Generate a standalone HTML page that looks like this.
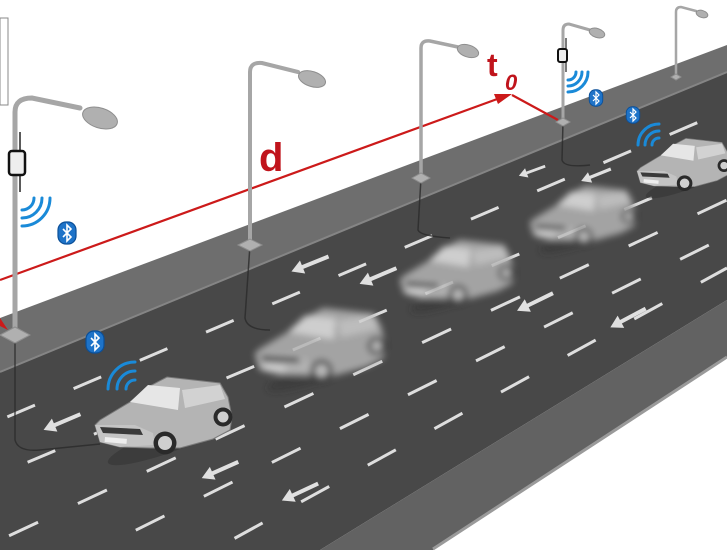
<!DOCTYPE html>
<html><head><meta charset="utf-8"><style>
html,body{margin:0;padding:0;background:#fff;width:727px;height:550px;overflow:hidden;}
svg{display:block;}
</style></head><body>
<svg width="727" height="550" viewBox="0 0 727 550" xmlns="http://www.w3.org/2000/svg">
<defs>
<filter id="blur" x="-20%" y="-20%" width="140%" height="140%"><feGaussianBlur stdDeviation="3.5"/></filter>
<g id="car">
  <ellipse cx="75" cy="65" rx="66" ry="12" fill="#2e2e2e" opacity="0.45" transform="rotate(-20 75 65)"/>
  <path d="M0,50 L5,45 L35,27 L53,12 L72,2 L125,8 L133,22 L137,42 L135,55 L118,64 L85,73 L55,73 L25,72 L5,67 Z" fill="#b4b4b4" stroke="#7a7a7a" stroke-width="1"/>
  <path d="M35,27 L53,10 L85,13 L83,35 Z" fill="#e6e6e6"/>
  <path d="M87,15 L125,10 L130,24 L90,33 Z" fill="#d2d2d2"/>
  <path d="M0,50 L40,50 L58,58 L60,70 L25,72 L5,67 Z" fill="#c4c4c4"/>
  <path d="M5,52 L45,54 L48,60 L8,58 Z" fill="#3a3a3a"/>
  <rect x="10" y="62" width="22" height="5" fill="#eee" transform="rotate(5 10 62)"/>
  <circle cx="70" cy="68" r="11.5" fill="#2a2a2a"/><circle cx="70" cy="68" r="7" fill="#cfcfcf"/>
  <circle cx="128" cy="42" r="9.5" fill="#2a2a2a"/><circle cx="128" cy="42" r="5.5" fill="#cfcfcf"/>
</g>
<g id="bt">
  <rect x="-9" y="-11" width="18" height="22" rx="8" fill="#1e73c8" stroke="#0b4f98" stroke-width="1.2"/>
  <path d="M-4,-4 L4,4 L0,8 L0,-8 L4,-4 L-4,4" fill="none" stroke="#fff" stroke-width="1.6"/>
</g>
<g id="arrow">
  <path d="M-20,0 L-8,-7 L-8,-2 L20,-2 L20,2 L-8,2 L-8,7 Z" fill="#e0e0e0"/>
</g>
</defs>

<rect x="0" y="18" width="8" height="87" fill="none" stroke="#888" stroke-width="1"/>

<polygon points="0,318 727,45 727,72 0,372" fill="#6e6e6e"/>
<polygon points="0,372 727,72 727,300 320,550 0,550" fill="#484848"/>
<line x1="0" y1="372" x2="727" y2="72" stroke="#858585" stroke-width="2"/>
<polygon points="320,550 727,300 727,357 433,550" fill="#626262"/>
<line x1="433" y1="549" x2="727" y2="357" stroke="#9a9a9a" stroke-width="3"/>

<g stroke="#dedede" stroke-width="3" fill="none">
  <line x1="0" y1="420" x2="727" y2="110" stroke-dasharray="30 42" stroke-dashoffset="-8"/>
  <line x1="0" y1="474" x2="727" y2="166" stroke-dasharray="30 42" stroke-dashoffset="-30"/>
  <line x1="0" y1="540" x2="727" y2="200" stroke-dasharray="32 44" stroke-dashoffset="-10"/>
  <line x1="100" y1="548" x2="727" y2="236" stroke-dasharray="32 44" stroke-dashoffset="-40"/>
  <line x1="217" y1="548" x2="727" y2="268" stroke-dasharray="32 44" stroke-dashoffset="-20"/>
</g>
<use href="#arrow" transform="translate(62,422) rotate(-23)"/>
<use href="#arrow" transform="translate(220,470) rotate(-24)"/>
<use href="#arrow" transform="translate(310,264) rotate(-22)"/>
<use href="#arrow" transform="translate(378,276) rotate(-23)"/>
<use href="#arrow" transform="translate(535,302) rotate(-26)"/>
<use href="#arrow" transform="translate(628,318) rotate(-28)"/>
<use href="#arrow" transform="translate(596,175) rotate(-22) scale(0.8)"/>
<use href="#arrow" transform="translate(532,171) rotate(-20) scale(0.7)"/>
<use href="#arrow" transform="translate(300,492) rotate(-25)"/>

<g fill="none" stroke="#2a2a2a" stroke-width="1.5" opacity="0.8">
  <path d="M15,335 L15,440 Q18,452 40,450 L100,444"/>
  <path d="M250,245 L245,318 Q247,330 270,330"/>
  <path d="M421,178 L418,230 Q420,236 450,238"/>
  <path d="M563,122 L562,160 Q564,168 590,165"/>
</g>

<line x1="0" y1="280" x2="500" y2="98" stroke="#cc1a1a" stroke-width="2.2"/>
<polygon points="512,94 494,94 498,104" fill="#cc1a1a"/>
<line x1="512" y1="95" x2="558" y2="120" stroke="#cc1a1a" stroke-width="2.2"/>
<polygon points="0,318 0,326 8,330" fill="#cc1a1a"/>
<text x="259" y="171" font-family="Liberation Sans, sans-serif" font-weight="bold" font-size="40" fill="#c0141c">d</text>
<text x="487" y="76" font-family="Liberation Sans, sans-serif" font-weight="bold" font-size="32" fill="#c0141c">t</text>
<text x="505" y="90" font-family="Liberation Sans, sans-serif" font-weight="bold" font-style="italic" font-size="22" fill="#c0141c">0</text>

<g fill="none" stroke="#a6a6a6" stroke-linecap="round">
  <path d="M15,335 L15,112 Q15,98 32,98 L80,108" stroke-width="5"/>
  <path d="M250,245 L250,72 Q250,62 262,63 L298,72" stroke-width="4"/>
  <path d="M421,178 L421,48 Q421,40 430,41 L458,47" stroke-width="3.5"/>
  <path d="M563,122 L563,30 Q563,24 569,24 L590,30" stroke-width="3"/>
  <path d="M676,77 L676,12 Q676,7 681,7 L696,11" stroke-width="2.5"/>
</g>
<g fill="#b0b0b0" stroke="#8e8e8e" stroke-width="1">
  <ellipse cx="100" cy="118" rx="18" ry="10" transform="rotate(18 100 118)"/>
  <ellipse cx="312" cy="79" rx="14" ry="7.5" transform="rotate(18 312 79)"/>
  <ellipse cx="468" cy="51" rx="11" ry="6" transform="rotate(18 468 51)"/>
  <ellipse cx="597" cy="33" rx="8" ry="4.5" transform="rotate(18 597 33)"/>
  <ellipse cx="702" cy="14" rx="6" ry="3.5" transform="rotate(18 702 14)"/>
  <polygon points="0,335 15,327 30,335 15,343"/>
  <polygon points="238,245 250,239 262,245 250,251"/>
  <polygon points="412,178 421,173 430,178 421,183"/>
  <polygon points="556,122 563,118 570,122 563,126"/>
  <polygon points="671,77 676,74 681,77 676,80"/>
</g>
<line x1="20" y1="132" x2="20" y2="192" stroke="#222" stroke-width="1.5"/>
<rect x="9" y="151" width="16" height="24" rx="3" fill="#eee" stroke="#111" stroke-width="2.5"/>
<line x1="566" y1="38" x2="566" y2="72" stroke="#222" stroke-width="1.2"/>
<rect x="558" y="49" width="9" height="13" rx="2" fill="#eee" stroke="#111" stroke-width="2"/>

<g fill="none" stroke="#1a8ad8" stroke-width="3" stroke-linecap="round">
  <path d="M22,210 A12,12 0 0 0 34,198"/>
  <path d="M22,218 A20,20 0 0 0 42,198"/>
  <path d="M22,226 A28,28 0 0 0 50,198"/>
  <path d="M126,389 A9,9 0 0 1 135,380"/>
  <path d="M117,389 A18,18 0 0 1 135,371"/>
  <path d="M108,389 A27,27 0 0 1 135,362"/>
  <path d="M568,80 A8,8 0 0 0 576,72"/>
  <path d="M568,86 A14,14 0 0 0 582,72"/>
  <path d="M568,92 A20,20 0 0 0 588,72"/>
  <path d="M652,145 A7,7 0 0 1 659,138"/>
  <path d="M645,145 A14,14 0 0 1 659,131"/>
  <path d="M638,145 A21,21 0 0 1 659,124"/>
</g>
<use href="#bt" transform="translate(67,233)"/>
<use href="#bt" transform="translate(95,342)"/>
<use href="#bt" transform="translate(596,98) scale(0.75)"/>
<use href="#bt" transform="translate(633,115) scale(0.75)"/>

<g filter="url(#blur)" opacity="0.85">
  <use href="#car" transform="translate(255,306) scale(0.95)"/>
  <use href="#car" transform="translate(400,238) scale(0.83)"/>
  <use href="#car" transform="translate(530,184) scale(0.77)"/>
</g>
<use href="#car" transform="translate(95,375)"/>
<use href="#car" transform="translate(637,137) scale(0.68)"/>
</svg>
</body></html>
